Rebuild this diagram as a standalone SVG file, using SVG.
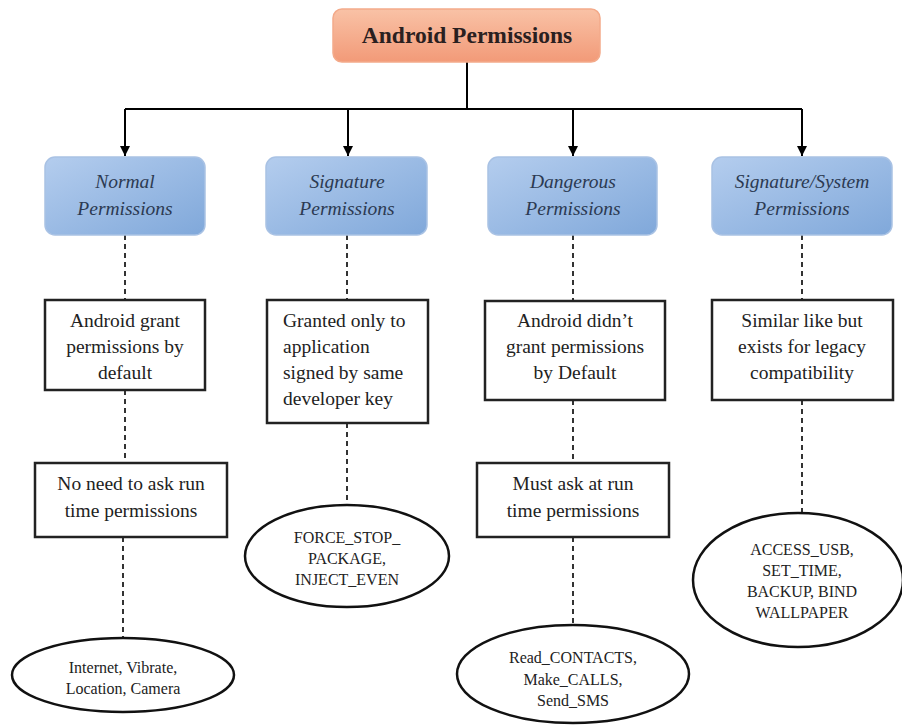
<svg xmlns="http://www.w3.org/2000/svg" width="902" height="726" viewBox="0 0 902 726">
<defs>
<linearGradient id="og" x1="0" y1="0" x2="0" y2="1"><stop offset="0" stop-color="#f9c2a6"/><stop offset="1" stop-color="#f29a78"/></linearGradient>
<linearGradient id="bg" x1="0" y1="0" x2="1" y2="1"><stop offset="0" stop-color="#b4cdee"/><stop offset="1" stop-color="#80a8da"/></linearGradient>
<marker id="ah" viewBox="0 0 10 10" refX="10" refY="5" markerWidth="5" markerHeight="5" orient="auto" markerUnits="strokeWidth"><path d="M0,0 L10,5 L0,10 z" fill="#000"/></marker>
</defs>
<style>
.cat{fill:url(#bg);stroke:#a9c2e4;stroke-width:1.5}
.ct{font-family:"Liberation Serif",serif;font-style:italic;font-size:19.5px;fill:#2c3a52;stroke:none;text-anchor:middle}
.box{fill:#fff;stroke:#222;stroke-width:2.5}
.bt{font-family:"Liberation Serif",serif;font-size:19.5px;fill:#222;text-anchor:middle}
.lt{font-family:"Liberation Serif",serif;font-size:19.5px;fill:#222;text-anchor:start}
.el{fill:#fff;stroke:#111;stroke-width:2.5}
.et{font-family:"Liberation Serif",serif;font-size:16px;fill:#222;text-anchor:middle}
.solid{stroke:#000;stroke-width:2;fill:none}
.dash{stroke:#333;stroke-width:2;stroke-dasharray:5,4;fill:none}
</style>
<rect width="902" height="726" fill="#fff"/>
<g id="connectors">
<path class="solid" d="M467,62 V109"/>
<path class="solid" d="M125,109 H802"/>
<path class="solid" d="M125,109 V156" marker-end="url(#ah)"/>
<path class="solid" d="M348,109 V156" marker-end="url(#ah)"/>
<path class="solid" d="M573,109 V156" marker-end="url(#ah)"/>
<path class="solid" d="M802,109 V156" marker-end="url(#ah)"/>
<path class="dash" d="M125,235 V300"/>
<path class="dash" d="M125,390 V463"/>
<path class="dash" d="M123,537 V638"/>
<path class="dash" d="M347,235 V300"/>
<path class="dash" d="M347,423 V505"/>
<path class="dash" d="M573,235 V301"/>
<path class="dash" d="M573,400 V463"/>
<path class="dash" d="M573,537 V625"/>
<path class="dash" d="M802,235 V300"/>
<path class="dash" d="M802,400 V512"/>
</g>
<g id="root">
<rect x="333" y="9" width="267" height="53" rx="9" fill="url(#og)" stroke="#f3aa8a" stroke-width="1.5"/>
<text x="467" y="43" font-family="Liberation Serif,serif" font-weight="bold" font-size="23.5" fill="#2a2020" text-anchor="middle">Android Permissions</text>
</g>
<g id="normal">
<rect class="cat" x="45" y="157" width="160" height="78" rx="10"/>
<text class="ct" x="125" y="188">Normal</text>
<text class="ct" x="125" y="215">Permissions</text>
</g>
<g id="signature">
<rect class="cat" x="266" y="157" width="161" height="78" rx="10"/>
<text class="ct" x="347" y="188">Signature</text>
<text class="ct" x="347" y="215">Permissions</text>
</g>
<g id="dangerous">
<rect class="cat" x="488" y="157" width="169" height="78" rx="10"/>
<text class="ct" x="573" y="188">Dangerous</text>
<text class="ct" x="573" y="215">Permissions</text>
</g>
<g id="sigsys">
<rect class="cat" x="712" y="157" width="180" height="78" rx="10"/>
<text class="ct" x="802" y="188">Signature/System</text>
<text class="ct" x="802" y="215">Permissions</text>
</g>
<g id="normal-desc">
<rect class="box" x="45" y="300" width="160" height="90"/>
<text class="bt" x="125" y="327">Android grant</text>
<text class="bt" x="125" y="353">permissions by</text>
<text class="bt" x="125" y="379">default</text>
</g>
<g id="normal-runtime">
<rect class="box" x="35" y="463" width="192" height="74"/>
<text class="bt" x="131" y="490">No need to ask run</text>
<text class="bt" x="131" y="517">time permissions</text>
</g>
<g id="normal-examples">
<ellipse class="el" cx="123" cy="675" rx="111" ry="37"/>
<text class="et" x="123" y="673">Internet, Vibrate,</text>
<text class="et" x="123" y="694">Location, Camera</text>
</g>
<g id="signature-desc">
<rect class="box" x="267" y="300" width="161" height="123"/>
<text class="lt" x="283" y="327">Granted only to</text>
<text class="lt" x="283" y="353">application</text>
<text class="lt" x="283" y="379">signed by same</text>
<text class="lt" x="283" y="405">developer key</text>
</g>
<g id="signature-examples">
<ellipse class="el" cx="347" cy="556" rx="102" ry="51"/>
<text class="et" x="347" y="543">FORCE_STOP_</text>
<text class="et" x="347" y="564">PACKAGE,</text>
<text class="et" x="347" y="585">INJECT_EVEN</text>
</g>
<g id="dangerous-desc">
<rect class="box" x="485" y="301" width="180" height="99"/>
<text class="bt" x="575" y="327">Android didn’t</text>
<text class="bt" x="575" y="353">grant permissions</text>
<text class="bt" x="575" y="379">by Default</text>
</g>
<g id="dangerous-runtime">
<rect class="box" x="477" y="463" width="192" height="74"/>
<text class="bt" x="573" y="490">Must ask at run</text>
<text class="bt" x="573" y="517">time permissions</text>
</g>
<g id="dangerous-examples">
<ellipse class="el" cx="573" cy="674" rx="116" ry="49"/>
<text class="et" x="573" y="663">Read_CONTACTS,</text>
<text class="et" x="573" y="685">Make_CALLS,</text>
<text class="et" x="573" y="706">Send_SMS</text>
</g>
<g id="sigsys-desc">
<rect class="box" x="712" y="300" width="181" height="100"/>
<text class="bt" x="802" y="327">Similar like but</text>
<text class="bt" x="802" y="353">exists for legacy</text>
<text class="bt" x="802" y="379">compatibility</text>
</g>
<g id="sigsys-examples">
<ellipse class="el" cx="798" cy="580" rx="105" ry="67"/>
<text class="et" x="802" y="555">ACCESS_USB,</text>
<text class="et" x="802" y="576">SET_TIME,</text>
<text class="et" x="802" y="597">BACKUP, BIND</text>
<text class="et" x="802" y="618">WALLPAPER</text>
</g>
</svg>
